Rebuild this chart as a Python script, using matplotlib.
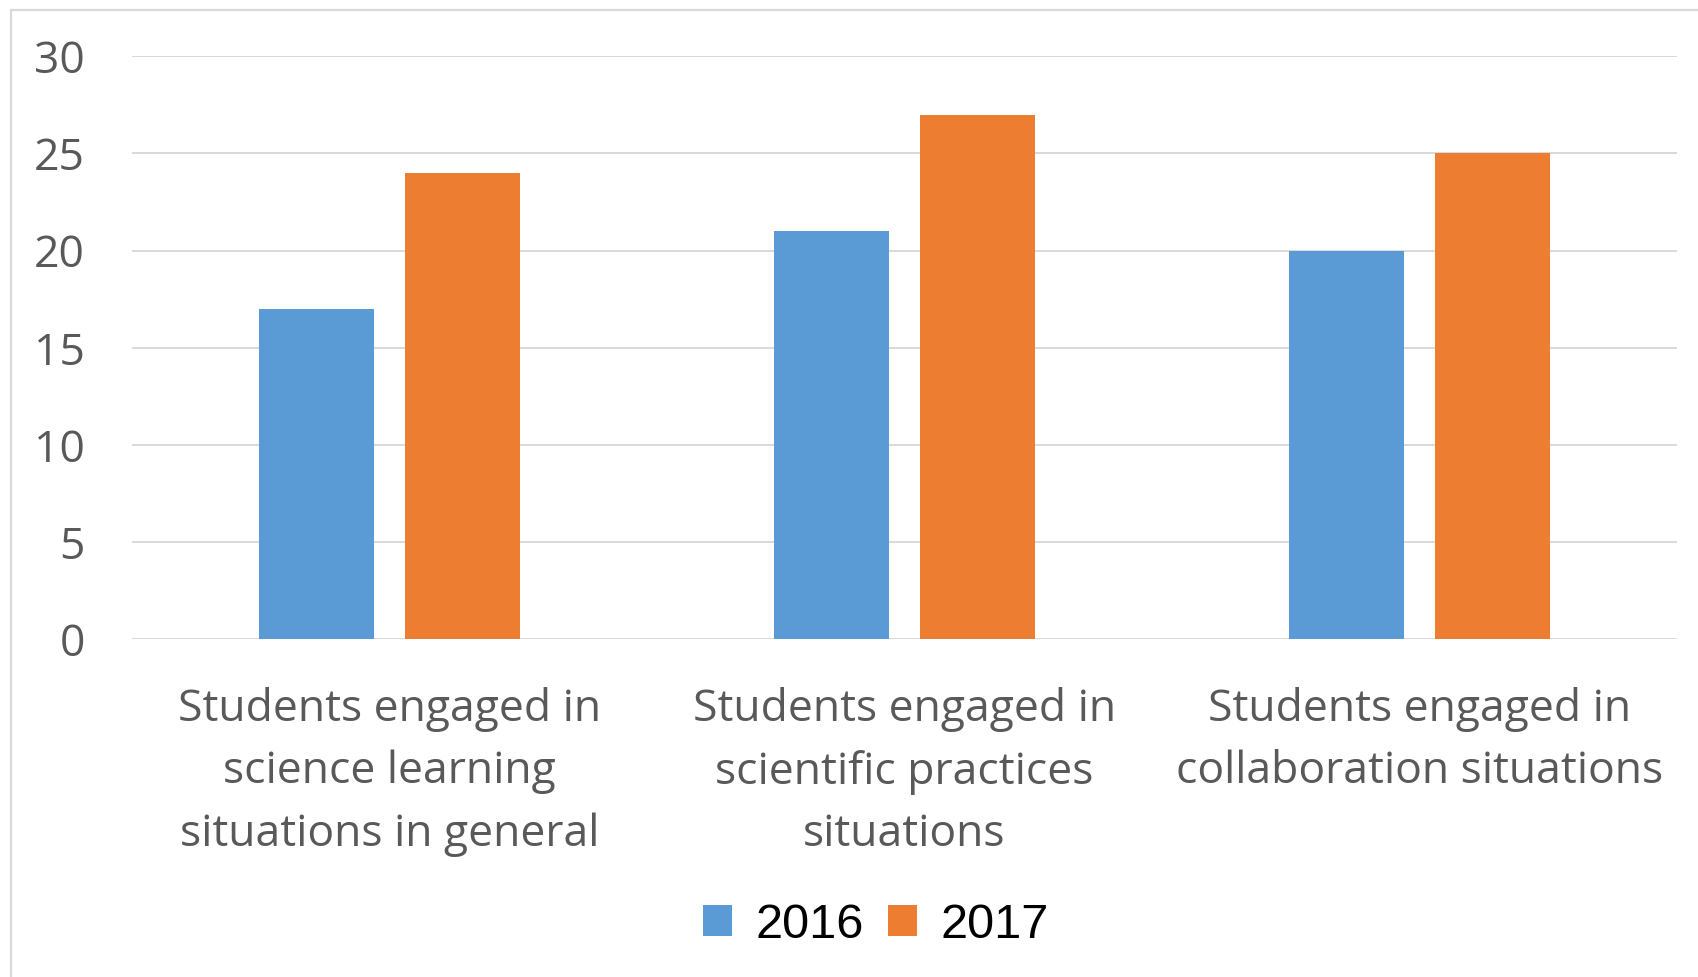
import numpy as np
import matplotlib.pyplot as plt
from matplotlib.patches import Rectangle, Patch

# 資料
categories = ['Students engaged in\nscience learning\nsituations in general',
              'Students engaged in\nscientific practices\nsituations',
              'Students engaged in\ncollaboration situations']
years = ['2016', '2017']
values_2016 = [17, 21, 20]
values_2017 = [24, 27, 25]
yticks = [0, 5, 10, 15, 20, 25, 30]

BLUE = '#5B9BD5'
ORANGE = '#ED7D31'
GRID = '#d9d9d9'
TEXT = '#595959'

fig = plt.figure(figsize=(16.99, 9.77), dpi=100)
ax = fig.add_axes([0.0777, 0.3456, 0.9093, 0.5968])

x = np.arange(len(categories))
w = 0.223
off = 0.1417
ax.bar(x - off, values_2016, width=w, color=BLUE, zorder=3)
ax.bar(x + off, values_2017, width=w, color=ORANGE, zorder=3)

ax.set_xlim(-0.5, len(categories) - 0.5)
ax.set_ylim(0, 30)
ax.set_yticks(yticks)
ax.set_yticklabels([str(v) for v in yticks], fontfamily='Open Sans', fontsize=32, color=TEXT)
ax.set_xticks(x)
ax.set_xticklabels(categories, fontfamily='Open Sans', fontsize=32, color=TEXT, linespacing=1.54)
ax.tick_params(axis='both', length=0)
ax.tick_params(axis='y', pad=34)
ax.tick_params(axis='x', pad=34)

ax.grid(axis='y', color=GRID, linewidth=1.4, zorder=0)
for s in ax.spines.values():
    s.set_visible(False)
ax.axhline(0, color=GRID, linewidth=1.4, zorder=2)

# 圖例
handles = [Patch(facecolor=BLUE, label=years[0]), Patch(facecolor=ORANGE, label=years[1])]
fig.legend(handles=handles, loc='center', bbox_to_anchor=(0.5156, 1 - 925 / 977), ncol=2,
           frameon=False, prop={'family': 'Liberation Sans', 'size': 35},
           handlelength=0.6, handleheight=0.6, handletextpad=0.48, columnspacing=0.5)

# 外框 (左、上)
fig.patches.append(Rectangle((11 / 1699, -0.1), 1.2, 1.1 - 10 / 977,
                             transform=fig.transFigure, fill=False,
                             edgecolor=GRID, linewidth=1.6))

fig.savefig('out.png', dpi=100)
